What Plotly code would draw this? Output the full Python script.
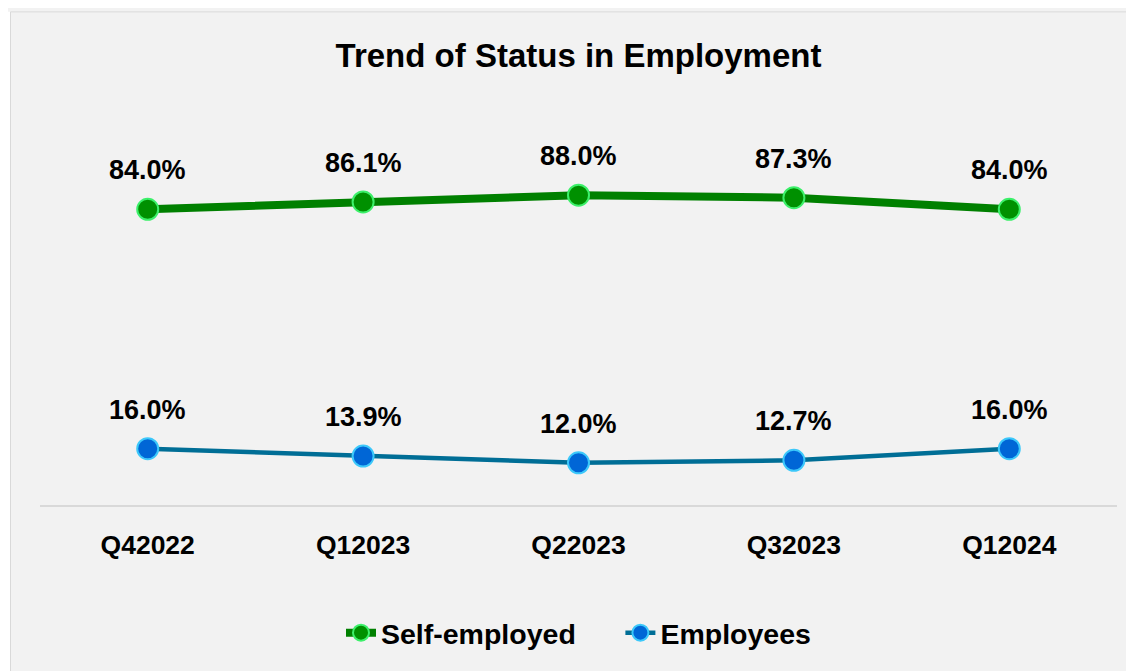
import plotly.graph_objects as go

quarters = ["Q42022", "Q12023", "Q22023", "Q32023", "Q12024"]
self_employed = [84.0, 86.1, 88.0, 87.3, 84.0]
employees = [16.0, 13.9, 12.0, 12.7, 16.0]

# the page body has an 8px margin; work in page pixels and convert
OFF = 8
W, H = 1134 - OFF, 671 - OFF
ML = 40 - OFF
MR = W - (1117 - OFF)
AXIS_Y = 507 - OFF
MT = 152.6 - OFF
MB = H - AXIS_Y
PW = W - ML - MR
PH = H - MT - MB

def px_x(p):
    return (p - OFF - ML) / PW

def px_y(p):
    return (H - MB - (p - OFF)) / PH

FONT = "Liberation Sans"
NB = "\u00a0"

fig = go.Figure()
fig.add_trace(go.Scatter(
    x=quarters, y=self_employed, name="<b>Self-employed</b>" + NB * 5, mode="lines+markers",
    line=dict(color="#008000", width=8),
    marker=dict(size=21, color="#009000", line=dict(color="#3CF06A", width=2)),
    cliponaxis=False,
))
fig.add_trace(go.Scatter(
    x=quarters, y=employees, name="<b>Employees</b>", mode="lines+markers",
    line=dict(color="#006E96", width=4.5),
    marker=dict(size=21, color="#0066D6", line=dict(color="#3CC8FA", width=2)),
    cliponaxis=False,
))

annotations = []
for series in (self_employed, employees):
    for q, v in zip(quarters, series):
        annotations.append(dict(
            x=q, y=v, text=f"<b>{v:.1f}%</b>", showarrow=False,
            yshift=39, font=dict(family=FONT, size=27, color="#000000"),
        ))

fig.update_layout(
    width=W, height=H,
    margin=dict(l=ML, r=MR, t=MT, b=MB, pad=0),
    paper_bgcolor="#F2F2F2",
    plot_bgcolor="rgba(0,0,0,0)",
    title=dict(text="<b>Trend of Status in Employment</b>", x=px_x(578.5), xref="paper",
               xanchor="center", y=1 - (55 - OFF) / H, yref="container", yanchor="middle",
               font=dict(family=FONT, size=33, color="#000000")),
    xaxis=dict(type="category", range=[-0.5, 4.5], showgrid=False, zeroline=False,
               showline=True, linecolor="#D9D9D9", linewidth=1.5,
               ticks="", ticklabelstandoff=15,
               tickfont=dict(family=FONT, size=26.5, color="#000000"),
               tickvals=quarters, ticktext=[f"<b>{q}</b>" for q in quarters]),
    yaxis=dict(range=[0, 100], visible=False, showgrid=False, zeroline=False),
    showlegend=True,
    legend=dict(orientation="h", x=0.5, xanchor="center", y=px_y(636), yanchor="middle",
                font=dict(family=FONT, size=28.5, color="#000000"),
                bgcolor="rgba(0,0,0,0)", itemwidth=30),
    annotations=annotations,
    shapes=[
        dict(type="rect", xref="paper", yref="paper",
             x0=px_x(0), x1=px_x(1140), y0=px_y(700), y1=px_y(10.5),
             fillcolor="#FFFFFF", line=dict(width=0), layer="below"),
        dict(type="rect", xref="paper", yref="paper",
             x0=px_x(10.5), x1=px_x(1140), y0=px_y(700), y1=px_y(10.5),
             fillcolor="#F2F2F2", line=dict(color="#D9D9D9", width=1), layer="below"),
    ],
)

fig.write_html("out.html")
